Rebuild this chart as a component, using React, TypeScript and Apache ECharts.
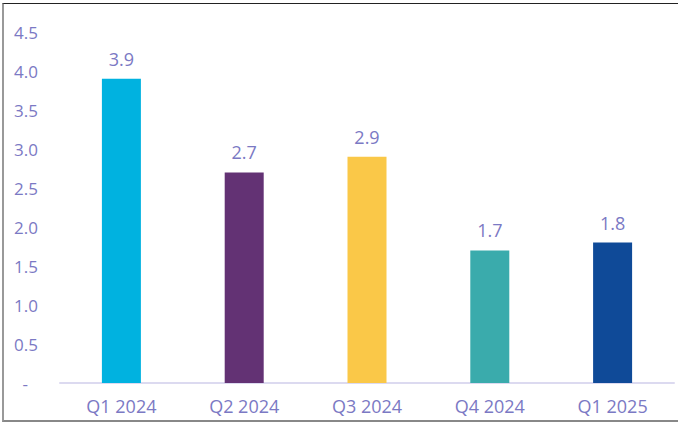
import React, { useEffect, useRef } from "react";
import * as echarts from "echarts";

const categories = ["Q1 2024", "Q2 2024", "Q3 2024", "Q4 2024", "Q1 2025"];
const values = [3.9, 2.7, 2.9, 1.7, 1.8];
const barColors = ["#00b2e0", "#633274", "#fac848", "#3aabac", "#0f4a98"];
const yTicks = [0, 0.5, 1.0, 1.5, 2.0, 2.5, 3.0, 3.5, 4.0, 4.5];

export default function App() {
  const ref = useRef<HTMLDivElement>(null);
  useEffect(() => {
    document.body.style.margin = "0";
    const chart = echarts.init(ref.current!, undefined, { renderer: "svg" });
    const textColor = "#7b79c4";
    chart.setOption({
      animation: false,
      grid: { left: 60, right: 4, top: 32, bottom: 40, containLabel: false },
      xAxis: {
        type: "category",
        data: categories,
        axisLine: { show: true, lineStyle: { color: "#dcdaf0", width: 2 } },
        axisTick: { show: false },
        axisLabel: {
          color: textColor,
          fontSize: 18,
          fontFamily: "Open Sans",
          margin: 14,
        },
      },
      yAxis: {
        type: "value",
        min: 0,
        max: 4.5,
        interval: 0.5,
        splitLine: { show: false },
        axisLine: { show: false },
        axisTick: { show: false },
        axisLabel: {
          color: textColor,
          fontSize: 17,
          fontFamily: "Open Sans",
          margin: 22,
          formatter: (v: number) =>
            v === 0 ? "{d|-}" : yTicks.includes(v) ? v.toFixed(1) : "",
          rich: {
            d: {
              color: textColor,
              fontSize: 17,
              fontFamily: "Open Sans",
              padding: [0, 10, 0, 0],
            },
          },
        },
      },
      series: [
        {
          type: "bar",
          barWidth: 39,
          data: values.map((v, i) => ({
            value: v,
            itemStyle: { color: barColors[i] },
          })),
          label: {
            show: true,
            position: "top",
            distance: 11,
            color: textColor,
            fontSize: 18,
            fontFamily: "Open Sans",
            formatter: (p: any) => p.value.toFixed(1),
          },
        },
      ],
    });
    return () => chart.dispose();
  }, []);
  return (
    <div style={{ position: "relative", width: 678, height: 423, background: "#fff" }}>
      <div ref={ref} style={{ position: "absolute", left: 0, top: 0, width: 678, height: 423 }} />
      <div
        style={{
          position: "absolute",
          left: 2,
          top: 3,
          width: 676,
          height: 419,
          boxSizing: "border-box",
          borderTop: "1px solid #222",
          borderLeft: "2px solid #999",
          borderBottom: "2px solid #888",
          pointerEvents: "none",
        }}
      />
    </div>
  );
}
